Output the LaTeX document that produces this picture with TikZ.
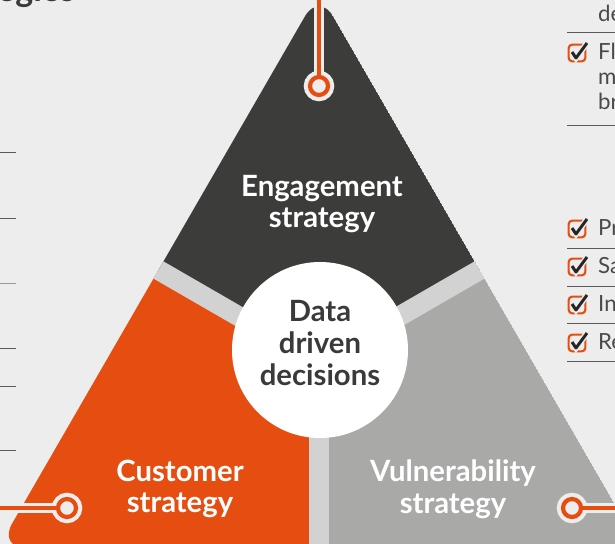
\documentclass[tikz,border=0pt]{standalone}
\usepackage{fontspec}
\setmainfont{Lato}
\definecolor{bggrey}{HTML}{EDEDED}
\definecolor{darkpiece}{HTML}{3C3C3B}
\definecolor{orangepiece}{HTML}{E64D10}
\definecolor{greypiece}{HTML}{A9A9A8}
\definecolor{gapgrey}{HTML}{D2D2D2}
\definecolor{textgrey}{HTML}{4A4A4A}
\definecolor{inkdark}{HTML}{3A3A3A}

\begin{document}
\begin{tikzpicture}[x=0.03cm,y=-0.03cm,
  piecetext/.style={text=white,font=\bfseries\fontsize{25}{27}\selectfont,align=center},
  hub/.style={circle,fill=white,minimum size=5.28cm,inner sep=0pt},
  hubtext/.style={text=inkdark,font=\bfseries\fontsize{25}{27.5}\selectfont,align=center},
  gap/.style={draw=gapgrey,line width=17pt},
  pin/.style={circle,draw=orangepiece,line width=3.6pt,fill=bggrey,minimum size=0.54cm,inner sep=0pt,preaction={draw=bggrey,line width=10.6pt}},
  pinline/.style={draw=bggrey,line width=2.6pt,double=orangepiece,double distance=3.4pt},
  sepline/.style={draw=black!65,line width=0.85pt},
  chkbox/.style={draw=orangepiece,line width=1.8pt,rounded corners=3pt,minimum size=0.5cm,inner sep=0pt},
  tick/.style={draw=black!85,line width=2.5pt,line join=round,preaction={draw=bggrey,line width=5pt}},
  listtext/.style={text=textgrey,font=\fontsize{19}{21}\selectfont,anchor=base west,inner sep=0pt}]
\useasboundingbox (0,0) rectangle (615,544);
\fill[bggrey] (0,0) rectangle (615,544);
\clip (0,0) rectangle (615,544);
% title, cut off at the top
\node[text=inkdark,font=\bfseries\fontsize{29}{32}\selectfont,anchor=base west,inner sep=0pt] (title) at (-3,2) {egies};
% left list rules
\draw[sepline] (-2,153) -- (16,153);
\draw[sepline] (-2,218) -- (16,218);
\draw[sepline,black!40] (-2,283) -- (16,283);
\draw[sepline] (-2,348) -- (16,348);
\draw[sepline] (-2,386) -- (16,386);
\draw[sepline] (-2,450) -- (16,450);
% the big triangle
\coordinate (apex) at (319,-8);
\coordinate (cornerL) at (-2,548);
\coordinate (cornerR) at (640,548);
\coordinate (midL) at (158.5,270);
\coordinate (midR) at (479.5,270);
\coordinate (midB) at (319,548);
\coordinate (core) at (319,362.7);
\begin{scope}
\clip[rounded corners=24pt] (apex) -- (cornerL) -- (cornerR) -- cycle;
\fill[darkpiece] (apex) -- (midL) -- (core) -- (midR) -- cycle;
\fill[orangepiece] (midL) -- (cornerL) -- (midB) -- (core) -- cycle;
\fill[greypiece] (midR) -- (core) -- (midB) -- (cornerR) -- cycle;
\draw[gap] (core) -- (midL);
\draw[gap] (core) -- (midR);
\draw[gap] (core) -- (midB);
\end{scope}
\node[hub] (hub) at (320,350) {};
\node[hubtext] (hubtext) at (320,343) {Data\\driven\\decisions};
\node[piecetext] (engage) at (322,204) {Engagement\\strategy};
\node[piecetext] (customer) at (180,489) {Customer\\strategy};
\node[piecetext] (vulner) at (453,489) {Vulnerability\\strategy};
% pins
\node[pin] (pinE) at (319,86) {};
\node[pin] (pinC) at (67,508) {};
\node[pin] (pinV) at (572,508) {};
\coordinate (endE) at (319,-10);
\coordinate (endC) at (-10,508);
\coordinate (endV) at (625,508);
\draw[pinline] (pinE) -- (endE);
\draw[pinline] (pinC) -- (endC);
\draw[pinline] (pinV) -- (endV);
% right list, top part
\node[listtext] (txtA) at (598,22) {de};
\draw[sepline] (567,33) -- (620,33);
\node[chkbox] (boxF) at (577,53) {};
\draw[tick] ([shift={(-5,-1)}]boxF.center) -- ([shift={(-1,5)}]boxF.center) -- ([shift={(10,-10)}]boxF.center);
\node[listtext] (txtF) at (598,60) {Fl};
\node[listtext] (txtM) at (598,85) {m};
\node[listtext] (txtB) at (598,110) {br};
\draw[sepline] (567,126) -- (620,126);
% right list, lower part
\node[chkbox] (boxP) at (577,229) {};
\draw[tick] ([shift={(-5,-1)}]boxP.center) -- ([shift={(-1,5)}]boxP.center) -- ([shift={(10,-10)}]boxP.center);
\node[listtext] (txtP) at (598,236) {Pr};
\draw[sepline] (567,248) -- (620,248);
\node[chkbox] (boxS) at (577,267) {};
\draw[tick] ([shift={(-5,-1)}]boxS.center) -- ([shift={(-1,5)}]boxS.center) -- ([shift={(10,-10)}]boxS.center);
\node[listtext] (txtS) at (598,274) {Sa};
\draw[sepline] (567,286) -- (620,286);
\node[chkbox] (boxI) at (577,305) {};
\draw[tick] ([shift={(-5,-1)}]boxI.center) -- ([shift={(-1,5)}]boxI.center) -- ([shift={(10,-10)}]boxI.center);
\node[listtext] (txtI) at (598,312) {In};
\draw[sepline] (567,323) -- (620,323);
\node[chkbox] (boxR) at (577,343) {};
\draw[tick] ([shift={(-5,-1)}]boxR.center) -- ([shift={(-1,5)}]boxR.center) -- ([shift={(10,-10)}]boxR.center);
\node[listtext] (txtR) at (598,350) {Re};
\draw[sepline] (567,361) -- (620,361);
\end{tikzpicture}
\end{document}
